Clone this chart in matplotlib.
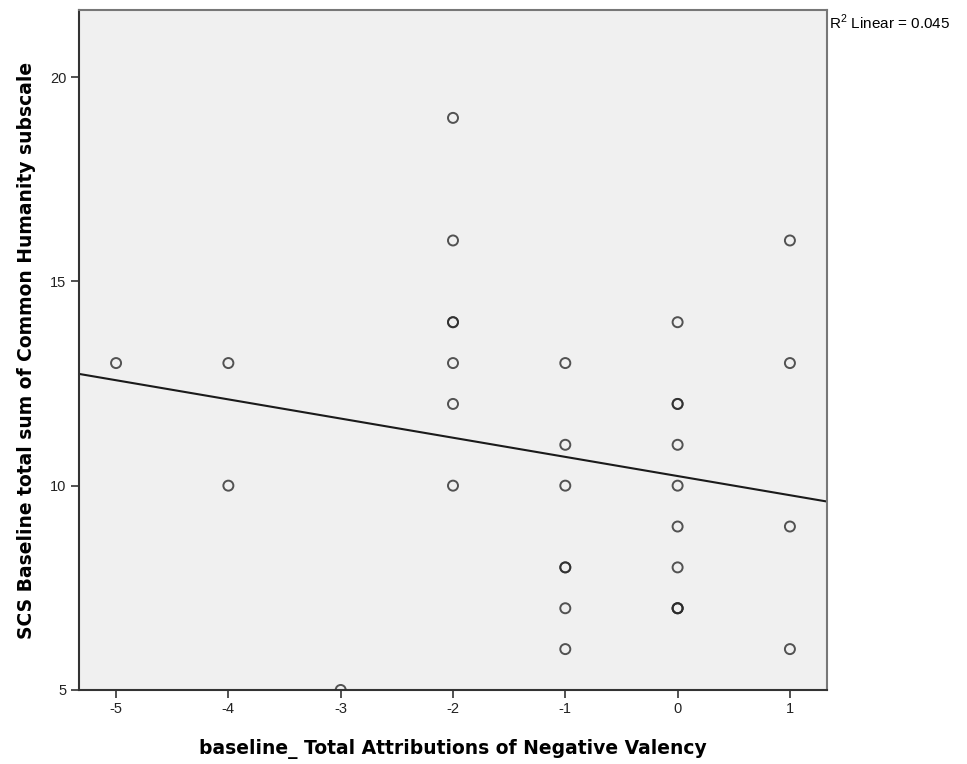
import numpy as np
import matplotlib.pyplot as plt

# observed scores, one entry per case (repeated values overlap in the plot)
x_vals = [-5, -4, -4, -3,
          -2, -2, -2, -2, -2, -2, -2,
          -1, -1, -1, -1, -1, -1, -1,
          0, 0, 0, 0, 0, 0, 0, 0, 0, 0,
          1, 1, 1, 1]
y_vals = [13, 13, 10, 5,
          19, 16, 14, 14, 13, 12, 10,
          13, 11, 10, 8, 8, 7, 6,
          14, 12, 12, 11, 10, 9, 8, 7, 7, 7,
          16, 13, 9, 6]
x_ticks = [-5, -4, -3, -2, -1, 0, 1]
y_ticks = [5, 10, 15, 20]
r2_label = "R$^2$ Linear = 0.045"

plt.rcParams["axes.unicode_minus"] = False
plt.rcParams["mathtext.fontset"] = "custom"
plt.rcParams["mathtext.rm"] = "Liberation Sans"

x = np.array(x_vals, dtype=float)
y = np.array(y_vals, dtype=float)

fig = plt.figure(figsize=(9.67, 7.64), dpi=100)
ax = fig.add_axes([0.0817, 0.0969, 0.7735, 0.89])
ax.set_facecolor("#f0f0f0")

ax.scatter(x, y, s=52, facecolors="none", edgecolors="#2a2a2a",
           linewidths=1.4, alpha=0.8, zorder=3)

# least squares fit line
slope, intercept = np.polyfit(x, y, 1)
xlim = (-5.33, 1.33)
xx = np.array(xlim)
ax.plot(xx, intercept + slope * xx, color="#1a1a1a", lw=1.5, zorder=2)

ax.set_xlim(xlim)
ax.set_ylim(5, 21.64)
ax.set_xticks(x_ticks)
ax.set_yticks(y_ticks)
ax.tick_params(direction="out", length=6, width=1.2, color="#333333",
               labelsize=10.5, pad=3)
for lab in ax.get_xticklabels() + ax.get_yticklabels():
    lab.set_family("Liberation Sans")
    lab.set_color("#222222")

for side in ["left", "bottom"]:
    ax.spines[side].set_color("#333333")
    ax.spines[side].set_linewidth(1.5)
for side in ["top", "right"]:
    ax.spines[side].set_color("#777777")
    ax.spines[side].set_linewidth(1.5)

ax.set_xlabel("baseline_ Total Attributions of Negative Valency",
              fontsize=13.5, fontweight="bold", labelpad=16)
ax.set_ylabel("SCS Baseline total sum of Common Humanity subscale",
              fontsize=13.5, fontweight="bold", labelpad=10)

fig.text(0.857, 1 - 22 / 764, r2_label, fontsize=11,
         family="Liberation Sans", va="center", ha="left")

fig.savefig("out.png", dpi=100)
